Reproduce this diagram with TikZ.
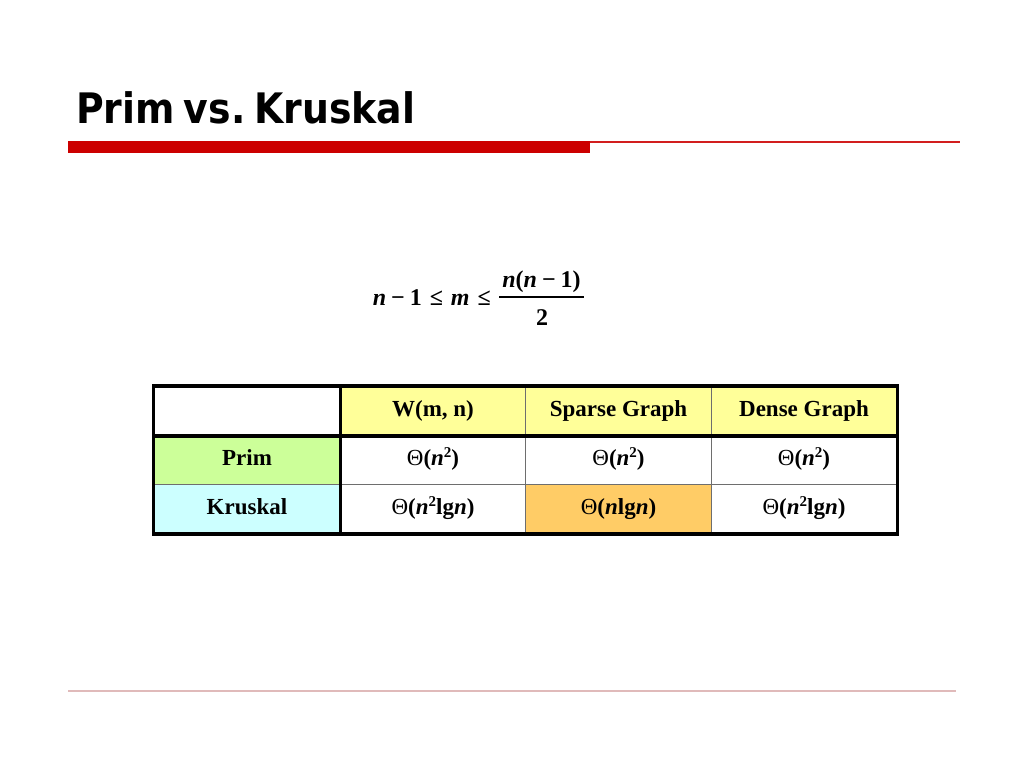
\documentclass[tikz,border=0pt]{standalone}
\usepackage{fontspec}
\setmainfont{Liberation Serif}
\newfontfamily\titlefont[FakeStretch=0.9]{DejaVu Sans}
\definecolor{barred}{RGB}{204,0,0}
\definecolor{thinred}{RGB}{210,30,30}
\definecolor{footline}{RGB}{224,186,186}
\definecolor{hdryellow}{RGB}{255,255,153}
\definecolor{primgreen}{RGB}{204,255,153}
\definecolor{krucyan}{RGB}{204,255,255}
\definecolor{hiorange}{RGB}{255,204,102}
\definecolor{gridgray}{RGB}{110,110,110}
\tikzset{
  cell/.style={draw=gridgray, line width=0.9pt, minimum width=186pt, minimum height=49pt,
    inner sep=0pt, font=\fontsize{23}{27}\selectfont\bfseries, text height=16pt, text depth=5pt},
  frm/.style={font=\fontsize{24}{28}\selectfont\bfseries, inner sep=0pt},
  thick border/.style={line width=3.6pt, line cap=rect}
}
\newcommand{\itn}{\textit{n}}
\newcommand{\itm}{\textit{m}}
\newcommand{\Th}{{\mdseries Θ}}
\newcommand{\sqr}{\raisebox{0.35em}{\fontsize{15}{17}\selectfont 2}}
\begin{document}
\begin{tikzpicture}[x=1pt,y=-1pt]
\useasboundingbox (0,0) rectangle (1024,768);
\fill[white] (0,0) rectangle (1024,768);
% title
\node[anchor=base west, inner sep=0pt, font=\titlefont\bfseries\fontsize{42}{50}\selectfont] (title) at (76,123) {Prim\hspace{9pt}vs.\hspace{9pt}Kruskal};
% rules
\fill[barred] (68,141) rectangle (590,153);
\draw[thinred, line width=1.8pt] (590,141.6) -- (960,141.6);
\draw[footline, line width=1.2pt] (68,691) -- (956,691);
% formula
\node[frm, anchor=base east] (lhs) at (491,305) {\itn\hspace{5pt}−\hspace{5pt}1\hspace{8pt}≤\hspace{8pt}\itm\hspace{8pt}≤};
\node[frm, anchor=base] (num) at (541.5,287) {\itn(\itn\hspace{5pt}−\hspace{5pt}1)};
\node[frm, anchor=base] (den) at (542,325) {2};
\draw[line width=1.3pt] (499,297) -- (584,297);
% table cells
\node[cell, fill=white]      (c00) at (247,411) {};
\node[cell, fill=hdryellow]  (c01) at (433,411) {W(m, n)};
\node[cell, fill=hdryellow]  (c02) at (618.5,411) {Sparse Graph};
\node[cell, fill=hdryellow]  (c03) at (804,411) {Dense Graph};
\node[cell, fill=primgreen]  (c10) at (247,460) {Prim};
\node[cell, fill=white]      (c11) at (433,460) {\Th(\itn\sqr)};
\node[cell, fill=white]      (c12) at (618.5,460) {\Th(\itn\sqr)};
\node[cell, fill=white]      (c13) at (804,460) {\Th(\itn\sqr)};
\node[cell, fill=krucyan]    (c20) at (247,509) {Kruskal};
\node[cell, fill=white]      (c21) at (433,509) {\Th(\itn\sqr lg\itn)};
\node[cell, fill=hiorange]   (c22) at (618.5,509) {\Th(\itn lg\itn)};
\node[cell, fill=white]      (c23) at (804,509) {\Th(\itn\sqr lg\itn)};
% thick borders
\draw[thick border] (c00.north west) rectangle (c23.south east);
\draw[thick border] (c00.south west) -- (c03.south east);
\draw[thick border] (c00.north east) -- (c20.south east);
\end{tikzpicture}
\end{document}
